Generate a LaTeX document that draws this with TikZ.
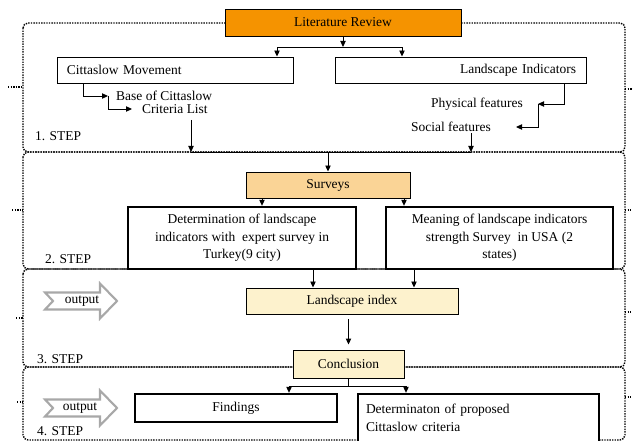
\documentclass[tikz,border=0pt]{standalone}
\usepackage{fontspec}
\setmainfont{Liberation Serif}
\usetikzlibrary{positioning, arrows.meta}
\definecolor{litorange}{RGB}{245,147,0}
\definecolor{survorange}{RGB}{250,212,150}
\definecolor{cream}{RGB}{253,242,205}
\definecolor{outgray}{RGB}{168,168,168}

\begin{document}
\begin{tikzpicture}[x=0.3mm, y=-0.3mm,
		every node/.style={font=\fontsize{11.5}{15}\selectfont},
		box/.style={draw, line width=0.8pt, fill=white, inner sep=0pt, align=center},
		thickbox/.style={box, line width=2pt},
		lbl/.style={inner ysep=1pt},
		stepline/.style={densely dotted, line width=1.2pt, rounded corners=1.5mm},
		arr/.style={-{Triangle[length=1.8mm, width=1.6mm]}, line width=0.8pt},
		outarrow/.style={draw=outgray, line width=1.8pt, fill=white, line join=miter}]
		\useasboundingbox (0,0) rectangle (633,441);
		% Step frames
		\draw[stepline] (23,23) rectangle (625,152);
		\draw[stepline] (23,152) rectangle (625,269);
		\draw[stepline] (23,269) rectangle (625,367);
		\draw[stepline] (23,367) rectangle (625,440);
		\draw[stepline] (8,87) -- (23,87) (625,89) -- (633,89);
		\draw[stepline] (12,210) -- (23,210) (625,210) -- (631,210);
		\draw[stepline] (16,318) -- (23,318) (625,312) -- (631,312);
		\draw[stepline] (17,402) -- (23,402) (625,397) -- (631,397);
		\node[lbl, anchor=west] (st1) at (31,136) {1. STEP};
		\node[lbl, anchor=west] (st2) at (41,259) {2. STEP};
		\node[lbl, anchor=west] (st3) at (33,359) {3. STEP};
		\node[lbl, anchor=west] (st4) at (33,431) {4. STEP};
		
		% Columns for the connectors
		\coordinate (t1) at (277,0);
		\coordinate (t2) at (402,0);
		\coordinate (e1) at (83,0);
		\coordinate (e2) at (564,0);
		\coordinate (c1) at (262,0);
		\coordinate (c2) at (404,0);
		\coordinate (c3) at (313,0);
		\coordinate (c4) at (414,0);
		\coordinate (c5) at (289,0);
		\coordinate (c6) at (406,0);
		
		% 1. step
		\node[box, fill=litorange, minimum width=70.8mm, minimum height=8.1mm] (lit) at (343,22.5) {Literature Review};
		\node[box, minimum height=7.8mm, text width=64.8mm, inner xsep=3mm, align=left] (cm) at (175,70) {Cittaslow Movement};
		\node[box, minimum height=7.8mm, text width=69.3mm, inner xsep=3mm, align=right] (li) at (460.5,70) {Landscape Indicators};
		\node[lbl, anchor=west, inner xsep=2.4mm] (base) at (108,96) {Base of Cittaslow};
		\node[lbl, anchor=west, inner xsep=3mm] (crit) at (132,109) {Criteria List};
		\node[lbl, anchor=east, inner xsep=4.5mm] (phys) at (538,104) {Physical features};
		\node[lbl, anchor=east, inner xsep=7.5mm] (soc) at (516,127) {Social features};
		
		\coordinate (split) at (343,47);
		\draw[arr] (lit.south) -- (split);
		\draw[arr] (split) -| (cm.north -| t1);
		\draw[arr] (split) -| (li.north -| t2);
		\draw[arr] (cm.south -| e1) |- (base.west);
		\draw[arr] (base.west) |- (crit.west);
		\draw[arr] (li.south -| e2) |- (phys.east);
		\draw[arr] (phys.east) |- (soc.east);
		
		\coordinate (m1) at (191,152);
		\coordinate (m2) at (471,152);
		\draw[arr, shorten <=1.5mm] (crit.south -| m1) -- (m1);
		\draw[arr] (soc.south -| m2) -- (m2);
		\draw[line width=0.8pt] (m1) -- (m2);
		
		% 2. step
		\node[box, fill=survorange, minimum width=49.2mm, minimum height=7.8mm] (surv) at (328,185) {Surveys};
		\draw[arr] (m1 -| surv.north) -- (surv.north);
		\node[thickbox, minimum width=68.4mm, minimum height=18.6mm] (det) at (242,238) {Determination of landscape\\indicators with\ \ expert survey in\\Turkey(9 city)};
		\node[thickbox, minimum width=68.1mm, minimum height=18.6mm] (mean) at (499.5,238) {Meaning of landscape indicators\\strength Survey\ \ in USA (2\\states)};
		\draw[arr] (surv.south -| c1) -- (det.north -| c1);
		\draw[arr] (surv.south -| c2) -- (mean.north -| c2);
		
		% 3. step
		\node[box, fill=cream, minimum width=63.6mm, minimum height=7.8mm] (lidx) at (352,301) {Landscape index};
		\draw[arr] (det.south -| c3) -- (lidx.north -| c3);
		\draw[arr] (mean.south -| c4) -- (lidx.north -| c4);
		\node[box, fill=cream, minimum width=33.3mm, minimum height=8.4mm] (concl) at (348.5,364) {Conclusion};
		\draw[arr, shorten <=1.5mm, shorten >=1.5mm] (lidx.south -| concl.north) -- (concl.north);
		
		% 4. step
		\node[thickbox, minimum width=60.6mm, minimum height=8.4mm] (find) at (236,408) {Findings};
		\node[thickbox, minimum height=14.4mm, text width=67.5mm, inner xsep=2.4mm, align=left] (dprop) at (478.5,418) {Determinaton of proposed\\Cittaslow criteria};
		\draw[line width=0.8pt] (concl.south) -- ++(0,8) coordinate (k);
		\draw[arr] (k) -| (find.north -| c5);
		\draw[arr] (k) -| (dprop.north -| c6);
		
		% Output arrows
		\draw[outarrow] (45,292.5) -- (100,292.5) -- (100,283.5) -- (117,301) -- (100,318.5) -- (100,309.5) -- (45,309.5) -- (53,301) -- cycle;
		\node (out1) at (82,301) {output};
		\draw[outarrow] (45,399.5) -- (100,399.5) -- (100,390.5) -- (117,408) -- (100,425.5) -- (100,416.5) -- (45,416.5) -- (53,408) -- cycle;
		\node (out2) at (80,408) {output};
	\end{tikzpicture}
\end{document}
